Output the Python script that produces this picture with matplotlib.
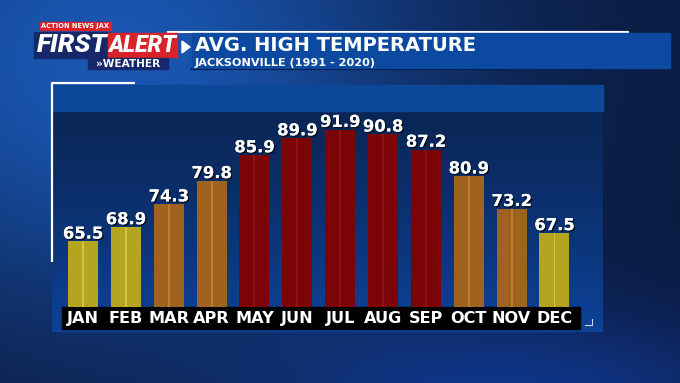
import numpy as np
import matplotlib.pyplot as plt
import matplotlib.patheffects as pe
from matplotlib.patches import Rectangle, Polygon

months = ['JAN', 'FEB', 'MAR', 'APR', 'MAY', 'JUN', 'JUL', 'AUG', 'SEP', 'OCT', 'NOV', 'DEC']
avg_high = [65.5, 68.9, 74.3, 79.8, 85.9, 89.9, 91.9, 90.8, 87.2, 80.9, 73.2, 67.5]
title = 'AVG. HIGH TEMPERATURE'
subtitle = 'JACKSONVILLE (1991 - 2020)'

W, H = 680, 383
fig = plt.figure(figsize=(W / 100, H / 100), dpi=100)
FONT = 'DejaVu Sans'

# background layer in pixel coords
bg = fig.add_axes([0, 0, 1, 1])
bg.set_xlim(0, W)
bg.set_ylim(H, 0)
bg.axis('off')

yy, xx = np.mgrid[0:H, 0:W]
base = np.array([0.04, 0.10, 0.24])
glow1 = np.exp(-(((xx - 110) / 330.0) ** 2 + ((yy - 60) / 260.0) ** 2))
glow2 = np.exp(-(((xx - 520) / 260.0) ** 2 + ((yy - 400) / 90.0) ** 2))
img = base + glow1[..., None] * np.array([0.06, 0.24, 0.46]) + glow2[..., None] * np.array([0.02, 0.10, 0.28])
bg.imshow(np.clip(img, 0, 1), extent=(0, W, H, 0), aspect='auto', zorder=0)

# chart panel
py = np.linspace(0, 1, 200)[:, None, None]
top_c = np.array([0.04, 0.15, 0.34])
bot_c = np.array([0.05, 0.26, 0.60])
panel = top_c + (bot_c - top_c) * py ** 1.2
panel = np.repeat(panel, 2, axis=1)
bg.imshow(panel, extent=(52, 603, 332, 111), aspect='auto', zorder=1)
bg.add_patch(Rectangle((52, 85), 551, 26, color='#0d4797', zorder=1))
bg.plot([52, 52, 135], [262, 83, 83], color='white', lw=1.6, zorder=2, solid_capstyle='butt')
bg.plot([585, 592, 592], [325, 325, 319], color='white', lw=0.8, zorder=2, alpha=0.8)
bg.add_patch(Rectangle((62, 307), 518, 22, color='black', zorder=2))

# header
bg.plot([168, 628], [31.5, 31.5], color='white', lw=1.5, zorder=2)
bg.plot([192, 593], [68.5, 68.5], color='#03153a', lw=1.5, zorder=2)
bg.add_patch(Rectangle((192, 33), 478, 35, color='#0b4aa0', zorder=2))
bg.add_patch(Polygon([[182, 41], [190, 47], [182, 53]], closed=True, color='white', zorder=3))
bg.text(195, 50.7, title, color='white', fontsize=14.05, fontweight='bold',
        family=FONT, va='baseline', ha='left', zorder=4)
bg.text(195, 65.5, subtitle, color='white', fontsize=8.1, fontweight='bold',
        family=FONT, va='baseline', ha='left', zorder=4)

# logo
bg.add_patch(Rectangle((40, 22), 71, 8, color='#d8232a', zorder=3))
bg.text(75, 26.3, 'ACTION NEWS JAX', color='white', fontsize=4.8, fontweight='bold',
        family=FONT, ha='center', va='center', zorder=4)
bg.add_patch(Rectangle((34, 32), 76, 26, color='#16286a', zorder=3))
bg.add_patch(Rectangle((108, 33), 69, 24, color='#d8232a', zorder=3))
bg.text(72, 45.5, 'FIRST', color='white', fontsize=19, fontweight='heavy', style='italic',
        family='Roboto', ha='center', va='center', zorder=4)
bg.text(142.5, 45.5, 'ALERT', color='white', fontsize=16.5, fontweight='heavy', style='italic',
        family='Roboto', ha='center', va='center', zorder=4)
bg.add_patch(Rectangle((88, 58), 80, 11, color='#16286a', zorder=3))
bg.text(128, 63.8, '\u00bbWEATHER', color='white', fontsize=7.6, fontweight='bold',
        family=FONT, ha='center', va='center', zorder=4)

# bar chart
ax = fig.add_axes([61.6 / W, (H - 307) / H, 514.3 / W, 196 / H], zorder=5)
ax.set_facecolor('none')
x = np.arange(len(months))


def bar_colors(v):
    if v >= 85:
        return '#7a0406', '#9c1414'
    if v >= 70:
        return '#a0621f', '#c8862e'
    return '#b4a420', '#dccd46'


fills = [bar_colors(v)[0] for v in avg_high]
stripes = [bar_colors(v)[1] for v in avg_high]
ax.bar(x, avg_high, width=0.70, color=fills, bottom=0)
ax.bar(x, avg_high, width=0.045, color=stripes, alpha=0.8)
ax.set_xlim(-0.5, len(months) - 0.5)
ax.set_ylim(50, 96.3)

shadow = [pe.withSimplePatchShadow(offset=(1, -1), shadow_rgbFace='black', alpha=0.7), pe.Normal()]
for xi, v in zip(x, avg_high):
    ax.annotate(f'{v}', xy=(xi, v), xytext=(0, 2), textcoords='offset points',
                ha='center', va='baseline', color='white', fontsize=11.8,
                fontweight='bold', family=FONT, path_effects=shadow)

ax.set_xticks(x)
ax.set_xticklabels(months, color='white', fontsize=11.6, fontweight='bold', family=FONT)
ax.tick_params(axis='x', length=0, pad=3)
ax.set_yticks([])
for s in ax.spines.values():
    s.set_visible(False)

fig.savefig('out.png', dpi=100)
